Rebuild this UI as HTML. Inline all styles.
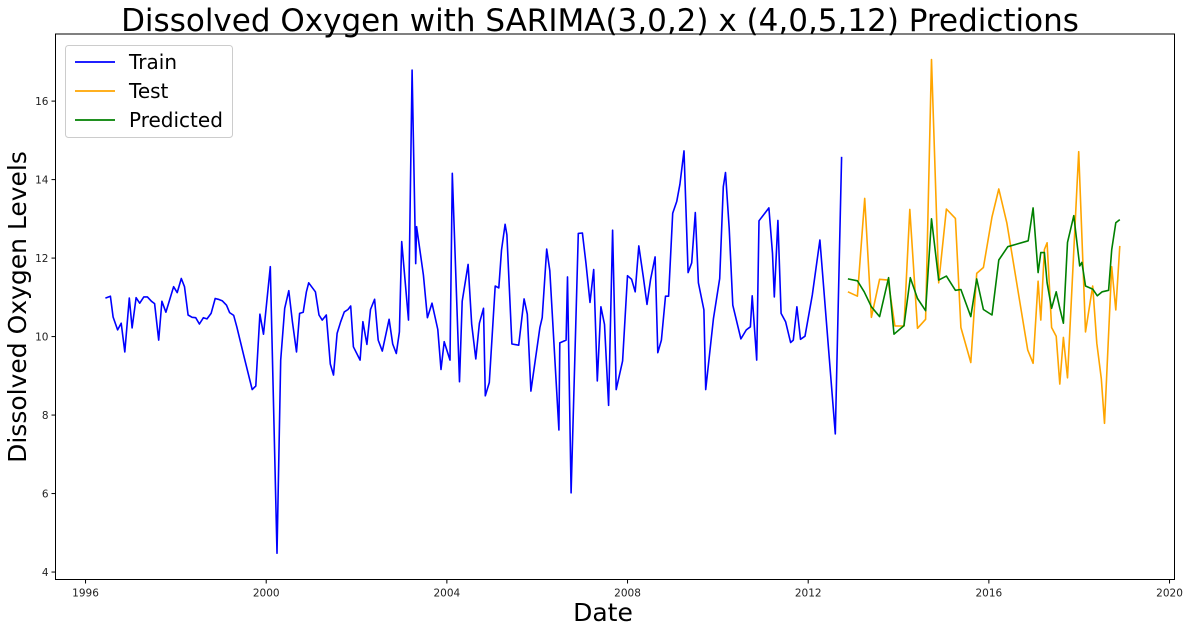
<!DOCTYPE html>
<html><head><meta charset="utf-8"><style>
html,body{margin:0;padding:0;background:#fff;}
svg{display:block;font-family:"DejaVu Sans","Liberation Sans",sans-serif;}
</style></head><body>
<svg id="chart" width="1187" height="631">
<rect width="1187" height="631" fill="#fff"/>
<text x="600" y="31" text-anchor="middle" font-size="31" fill="#000">Dissolved Oxygen with SARIMA(3,0,2) x (4,0,5,12) Predictions</text>
<g id="plot"></g>
<text x="603" y="621" text-anchor="middle" font-size="25" fill="#000">Date</text>
<text transform="translate(26,307) rotate(-90)" text-anchor="middle" font-size="25" fill="#000">Dissolved Oxygen Levels</text>
</svg>
<script>
const trainDates=[1996.44,1996.55,1996.61,1996.71,1996.79,1996.87,1996.97,1997.03,1997.12,1997.20,1997.29,1997.37,1997.46,1997.53,1997.62,1997.69,1997.78,1997.85,1997.95,1998.03,1998.12,1998.19,1998.27,1998.36,1998.44,1998.52,1998.61,1998.69,1998.78,1998.87,1998.94,1999.03,1999.12,1999.19,1999.28,1999.35,1999.52,1999.69,1999.77,1999.86,1999.94,2000.09,2000.24,2000.32,2000.41,2000.50,2000.58,2000.67,2000.74,2000.82,2000.89,2000.94,2001.09,2001.17,2001.24,2001.33,2001.42,2001.49,2001.57,2001.65,2001.73,2001.81,2001.87,2001.93,2002.08,2002.14,2002.23,2002.31,2002.40,2002.48,2002.57,2002.72,2002.80,2002.88,2002.95,2003.00,2003.15,2003.23,2003.31,2003.33,2003.48,2003.57,2003.67,2003.80,2003.87,2003.94,2004.07,2004.12,2004.28,2004.34,2004.47,2004.55,2004.64,2004.72,2004.81,2004.85,2004.94,2005.07,2005.15,2005.21,2005.29,2005.33,2005.44,2005.59,2005.71,2005.78,2005.86,2006.06,2006.11,2006.21,2006.28,2006.48,2006.50,2006.64,2006.67,2006.75,2006.91,2007.00,2007.08,2007.17,2007.25,2007.33,2007.41,2007.49,2007.58,2007.67,2007.75,2007.89,2008.00,2008.09,2008.17,2008.25,2008.35,2008.43,2008.51,2008.61,2008.67,2008.75,2008.84,2008.91,2009.00,2009.09,2009.16,2009.25,2009.34,2009.42,2009.50,2009.57,2009.69,2009.73,2009.90,2010.04,2010.12,2010.17,2010.25,2010.33,2010.51,2010.63,2010.72,2010.76,2010.86,2010.91,2011.13,2011.21,2011.25,2011.33,2011.40,2011.50,2011.61,2011.67,2011.75,2011.83,2011.93,2012.09,2012.26,2012.60,2012.74];
const trainValues=[10.98,11.03,10.50,10.17,10.34,9.61,10.98,10.22,10.99,10.85,11.01,11.01,10.90,10.84,9.91,10.90,10.62,10.89,11.27,11.12,11.48,11.27,10.55,10.49,10.48,10.32,10.48,10.45,10.59,10.97,10.95,10.91,10.80,10.61,10.54,10.25,9.44,8.65,8.74,10.57,10.06,11.78,4.48,9.40,10.72,11.17,10.38,9.61,10.59,10.62,11.14,11.37,11.14,10.55,10.42,10.55,9.30,9.02,10.08,10.38,10.63,10.69,10.78,9.74,9.40,10.38,9.80,10.69,10.95,9.91,9.63,10.44,9.81,9.57,10.12,12.42,10.42,16.79,11.86,12.80,11.57,10.48,10.85,10.18,9.16,9.87,9.40,14.16,8.85,10.90,11.84,10.31,9.43,10.34,10.72,8.49,8.83,11.29,11.24,12.20,12.86,12.59,9.81,9.78,10.96,10.57,8.61,10.23,10.48,12.23,11.68,7.62,9.84,9.91,11.52,6.02,12.63,12.64,11.86,10.87,11.71,8.87,10.76,10.31,8.25,12.71,8.65,9.38,11.55,11.46,11.14,12.31,11.52,10.82,11.46,12.03,9.59,9.91,11.03,11.03,13.14,13.45,13.88,14.73,11.63,11.88,13.16,11.37,10.68,8.65,10.45,11.48,13.82,14.18,12.76,10.80,9.94,10.17,10.25,11.04,9.40,12.95,13.28,12.12,11.01,12.96,10.59,10.38,9.85,9.91,10.76,9.93,10.01,11.06,12.46,7.52,14.58];
const testDates=[2012.88,2013.09,2013.25,2013.40,2013.58,2013.77,2013.92,2014.12,2014.25,2014.42,2014.60,2014.73,2014.89,2015.06,2015.26,2015.38,2015.60,2015.73,2015.88,2016.07,2016.22,2016.40,2016.86,2016.98,2017.09,2017.15,2017.23,2017.29,2017.39,2017.49,2017.57,2017.65,2017.74,2017.99,2018.14,2018.30,2018.39,2018.49,2018.56,2018.72,2018.81,2018.90];
const testValues=[11.14,11.03,13.52,10.49,11.46,11.44,10.27,10.27,13.24,10.21,10.44,17.06,11.37,13.25,13.01,10.23,9.34,11.61,11.76,13.05,13.76,12.89,9.66,9.32,11.41,10.42,12.22,12.39,10.23,10.01,8.79,9.98,8.95,14.71,10.12,11.29,9.83,8.93,7.79,11.78,10.68,12.31];
const predDates=[2012.88,2013.09,2013.24,2013.40,2013.58,2013.78,2013.90,2014.12,2014.26,2014.42,2014.60,2014.73,2014.89,2015.06,2015.26,2015.38,2015.60,2015.73,2015.88,2016.07,2016.22,2016.42,2016.87,2016.98,2017.09,2017.15,2017.23,2017.29,2017.39,2017.49,2017.57,2017.65,2017.74,2017.88,2018.01,2018.06,2018.14,2018.30,2018.40,2018.51,2018.65,2018.72,2018.81,2018.90];
const predValues=[11.47,11.42,11.14,10.76,10.51,11.50,10.06,10.28,11.50,10.97,10.66,13.00,11.44,11.54,11.18,11.20,10.51,11.47,10.69,10.55,11.95,12.29,12.44,13.28,11.63,12.14,12.14,11.37,10.72,11.14,10.72,10.34,12.40,13.08,11.80,11.89,11.29,11.21,11.04,11.14,11.18,12.21,12.90,12.98];
const xTicks=[1996,2000,2004,2008,2012,2016,2020];
const yTicks=[4,6,8,10,12,14,16];

const L=55.5,T=34,R=1174.5,B=579.5;
const xMin=1995.335,xMax=2020.11,yMin=3.81,yMax=17.71;
const X=v=>L+(v-xMin)/(xMax-xMin)*(R-L);
const Y=v=>B-(v-yMin)/(yMax-yMin)*(B-T);
const NS="http://www.w3.org/2000/svg";
const g=document.getElementById('plot');
function mk(tag,attrs,parent){const e=document.createElementNS(NS,tag);for(const k in attrs)e.setAttribute(k,attrs[k]);(parent||g).appendChild(e);return e;}

function series(d,v,color,name){
  const p=mk('polyline',{points:d.map((t,i)=>X(t).toFixed(1)+','+Y(v[i]).toFixed(1)).join(' '),fill:'none',stroke:color,'stroke-width':1.6,'stroke-linejoin':'round'});
  
  
}
series(trainDates,trainValues,'#0000ff','train-line');
series(testDates,testValues,'#ffa500','test-line');
series(predDates,predValues,'#008000','predicted-line');

const frame=mk('rect',{x:L,y:T,width:R-L,height:B-T,fill:'none',stroke:'#000','stroke-width':1});



xTicks.forEach(t=>{
  const x=X(t);
  const tk=mk('line',{x1:x,x2:x,y1:B,y2:B+4,stroke:'#000'});
  
  
  const lb=mk('text',{x:x,y:B+17,'text-anchor':'middle','font-size':10.5,fill:'#222'});
  lb.textContent=t;
  
  
});
yTicks.forEach(t=>{
  const y=Y(t);
  const tk=mk('line',{x1:L-4,x2:L,y1:y,y2:y,stroke:'#000'});
  
  
  const lb=mk('text',{x:L-7,y:y+4,'text-anchor':'end','font-size':10.5,fill:'#222'});
  lb.textContent=t;
  
  
});

const lg=mk('g',{});


mk('rect',{x:65.5,y:45.5,width:167,height:92,rx:3,fill:'#fff','fill-opacity':0.8,stroke:'#ccc'},lg);
[['Train','#0000ff'],['Test','#ffa500'],['Predicted','#008000']].forEach((e,i)=>{
  const y=62+i*29;
  const it=mk('g',{},lg);
  
  
  mk('line',{x1:75,x2:115,y1:y,y2:y,stroke:e[1],'stroke-width':1.8},it);
  const t=mk('text',{x:129,y:y+7,'font-size':20,fill:'#000'},it);
  t.textContent=e[0];
});
</script>
</body></html>
